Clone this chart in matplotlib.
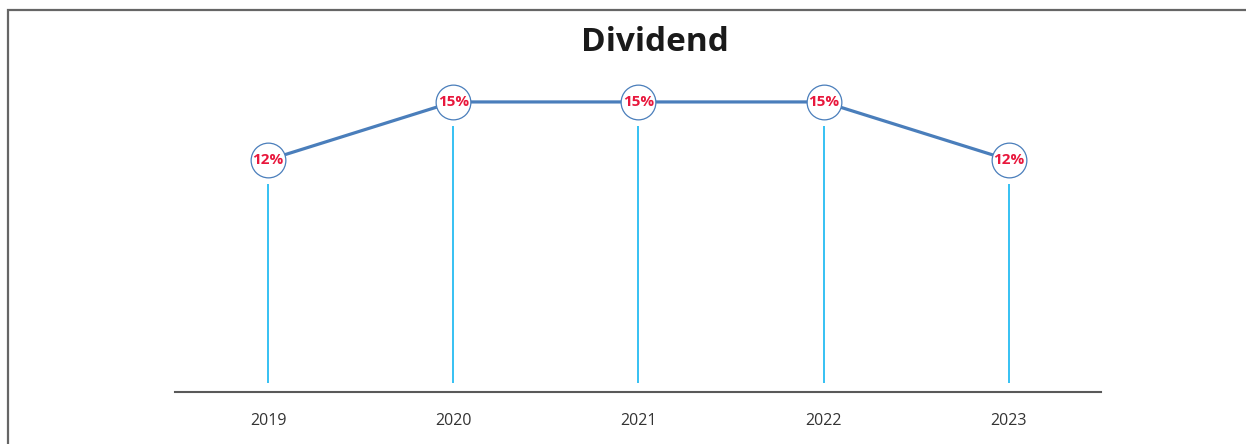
import matplotlib.pyplot as plt
from matplotlib.patches import Rectangle

years = ['2019', '2020', '2021', '2022', '2023']
dividend = [12, 15, 15, 15, 12]
labels = ['12%', '15%', '15%', '15%', '12%']

plt.rcParams['font.family'] = ['Open Sans', 'DejaVu Sans']

fig = plt.figure(figsize=(12.46, 4.44), dpi=100)
ax = fig.add_axes([0.1408, 0.1171, 0.7432, 0.7478])

x = list(range(len(years)))

# 垂直引线
ax.vlines(x, 0.45, [v - 1.25 for v in dividend], color='#00b0f0', linewidth=1.1, zorder=1)

# 折线 + 圆圈
ax.plot(x, dividend, color='#4a7ebb', linewidth=2.3, zorder=2)
ax.plot(x, dividend, linestyle='none', marker='o', markersize=25,
        markerfacecolor='white', markeredgecolor='#4a7ebb', markeredgewidth=0.9, zorder=3)

for xi, v, lab in zip(x, dividend, labels):
    ax.text(xi, v, lab, ha='center', va='center', color='#e8173c',
            fontsize=11, fontweight='bold', zorder=4)

ax.set_xlim(-0.5, len(years) - 0.5)
ax.set_ylim(0, 17.17)
ax.set_xticks(x)
ax.set_xticklabels(years, fontsize=11.5, color='#333333')
ax.tick_params(axis='x', length=0, pad=15)
ax.set_yticks([])
for s in ['top', 'right', 'left']:
    ax.spines[s].set_visible(False)
ax.spines['bottom'].set_color('#595959')
ax.spines['bottom'].set_linewidth(1.5)

fig.text(0.526, 0.905, 'Dividend', ha='center', va='center', fontsize=24,
         fontweight='bold', color='#1a1a1a')

# 外框
fig.patches.append(Rectangle((8 / 1246, -0.1), 1.2, 1.1 - 10.5 / 444,
                             transform=fig.transFigure, fill=False,
                             edgecolor='#666666', linewidth=1.6))

fig.savefig('out.png', dpi=100)
